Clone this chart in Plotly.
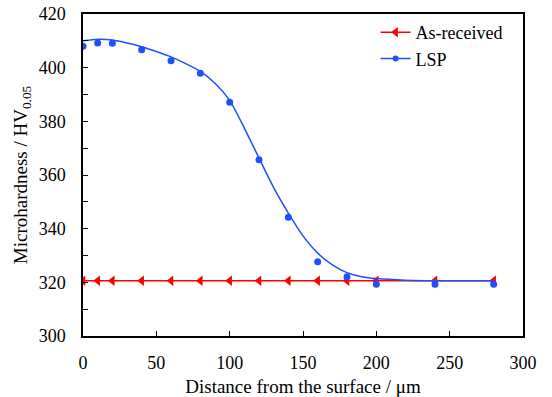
import plotly.graph_objects as go

# Data
dist_asr = [0, 10, 20, 40, 60, 80, 100, 120, 140, 160, 180, 200, 240, 280]
hv_asr = [320.6, 320.6, 320.6, 320.6, 320.6, 320.6, 320.6, 320.6, 320.6, 320.6, 320.6, 320.6, 320.6, 320.6]

dist_lsp = [0, 10, 20, 40, 60, 80, 100, 120, 140, 160, 180, 200, 240, 280]
hv_lsp = [408.0, 409.2, 409.1, 406.7, 402.6, 397.9, 387.1, 365.7, 344.3, 327.7, 322.1, 319.3, 319.3, 319.3]

# Fitted curve values
fit_x = [0, 10, 20, 30, 40, 50, 60, 70, 80, 90, 100, 110, 120, 130, 140, 150, 160, 170, 180, 190, 200, 220, 240, 280]
fit_y = [410.0, 410.6, 410.3, 409.2, 407.8, 406.0, 404.0, 401.5, 398.6, 394.2, 387.8, 377.5, 366.3, 355.3, 345.8, 337.3, 330.9, 326.5, 323.6, 322.1, 321.4, 320.8, 320.6, 320.6]

x_ticks = [0, 50, 100, 150, 200, 250, 300]
y_ticks = [300, 320, 340, 360, 380, 400, 420]

RED = "#ff0000"
BLUE = "#1f4fff"
FONT = "Liberation Serif"

fig = go.Figure()
fig.add_trace(go.Scatter(
    x=dist_asr, y=hv_asr, mode="lines+markers", name="As-received",
    line=dict(color=RED, width=1.5),
    marker=dict(symbol="triangle-left", size=9, color=RED),
))
fig.add_trace(go.Scatter(
    x=fit_x, y=fit_y, mode="lines", name="LSP fit", showlegend=False,
    line=dict(color=BLUE, width=1.5, shape="spline", smoothing=0.6),
))
fig.add_trace(go.Scatter(
    x=dist_lsp, y=hv_lsp, mode="markers", name="LSP", showlegend=False,
    marker=dict(symbol="circle", size=7, color=BLUE),
))
# legend entry for LSP (line + dot)
fig.add_trace(go.Scatter(
    x=[None], y=[None], mode="lines+markers", name="LSP",
    line=dict(color=BLUE, width=1.5),
    marker=dict(symbol="circle", size=6, color=BLUE),
))

axis_common = dict(
    showline=True, linecolor="black", linewidth=1.5, mirror=True,
    showgrid=False, zeroline=False, automargin=False,
    ticks="inside", ticklen=5, tickwidth=1.2, tickcolor="black",
    tickfont=dict(family=FONT, size=18, color="black"),
)

fig.update_xaxes(
    range=[0, 300], tickvals=x_ticks, ticktext=[str(v) for v in x_ticks],
    ticklabelstandoff=10,
    title=dict(text="Distance from the surface / μm", font=dict(family=FONT, size=19, color="black"), standoff=9),
    **axis_common,
)
fig.update_yaxes(
    range=[300, 420], tickvals=y_ticks, ticktext=[str(v) for v in y_ticks],
    ticklabelstandoff=12,
    title=dict(text="Microhardness / HV<sub>0.05</sub>", font=dict(family=FONT, size=19, color="black"), standoff=6),
    minor=dict(ticks="inside", dtick=10, ticklen=5, tickcolor="black", tickwidth=1.2),
    **axis_common,
)

fig.update_layout(
    width=552, height=397,
    margin=dict(l=83, r=29, t=14, b=61),
    plot_bgcolor="white", paper_bgcolor="white",
    font=dict(family=FONT, size=19, color="black"),
    legend=dict(
        x=0.665, y=1.0, xanchor="left", yanchor="top",
        bgcolor="rgba(0,0,0,0)", borderwidth=0,
        font=dict(family=FONT, size=18, color="black"),
    ),
)

fig.write_html(
    "out.html",
    config={"displayModeBar": False},
    post_script="document.body.style.margin='0';document.body.style.padding='0';",
)
